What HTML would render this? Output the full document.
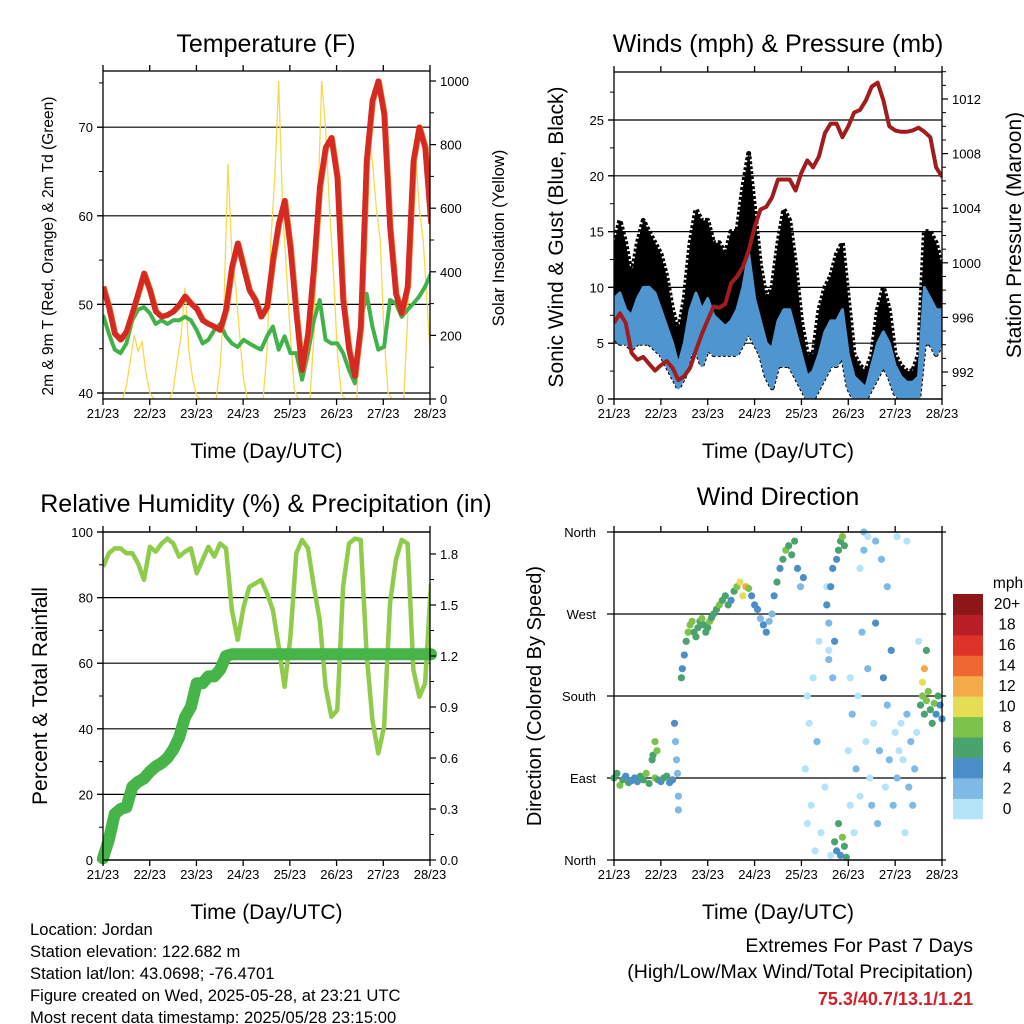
<!DOCTYPE html>
<html><head><meta charset="utf-8"><title>Jordan station weather, last 7 days</title>
<style>
html,body{margin:0;padding:0;background:#fff;}
svg{display:block;font-family:"Liberation Sans",Arial,sans-serif;}
</style></head>
<body>
<svg id="chart" xmlns="http://www.w3.org/2000/svg" width="1024" height="1024" viewBox="0 0 1024 1024">
<rect x="0" y="0" width="1024" height="1024" fill="#fff"/>
<defs>
<clipPath id="c1"><rect x="103" y="71" width="327" height="328"/></clipPath>
<clipPath id="c2"><rect x="614" y="72" width="328" height="327"/></clipPath>
<clipPath id="c3"><rect x="103" y="532" width="327" height="328"/></clipPath>
<clipPath id="c4"><rect x="610" y="528" width="336" height="336"/></clipPath>
</defs>
<g id="p1"></g>
<g id="p2"></g>
<g id="p3"></g>
<g id="p4"></g>
<g font-size="16.6" fill="#000">
<text x="30" y="935">Location: Jordan</text>
<text x="30" y="957">Station elevation: 122.682 m</text>
<text x="30" y="979">Station lat/lon: 43.0698; -76.4701</text>
<text x="30" y="1001">Figure created on Wed, 2025-05-28, at 23:21 UTC</text>
<text x="30" y="1023">Most recent data timestamp: 2025/05/28 23:15:00</text>
</g>
<g text-anchor="end">
<text x="973" y="952" font-size="19.5">Extremes For Past 7 Days</text>
<text x="973" y="978" font-size="19.5">(High/Low/Max Wind/Total Precipitation)</text>
<text x="973" y="1005" font-size="18" font-weight="bold" fill="#d0202a">75.3/40.7/13.1/1.21</text>
</g>
</svg>
<script>
// ---- data (3-hourly from 21/23 UTC, 57 samples) ----
const TEMP = [52.0,49.7,46.7,46.0,46.9,49.0,51.2,53.5,51.6,49.2,48.6,48.8,49.2,49.9,50.9,50.1,49.5,48.2,47.8,47.5,47.1,49.4,54.2,56.9,54.2,51.6,50.5,48.6,49.7,55.0,59.1,61.7,56.4,49.0,42.6,46.7,54.2,63.2,67.7,68.8,64.3,50.5,44.9,41.9,47.5,66.2,73.0,75.2,71.5,58.7,51.2,49.0,52.0,66.2,70.0,67.7,59.1];
const DEWPT = [48.8,46.7,44.9,44.5,45.6,48.2,49.4,49.7,49.0,47.8,48.2,47.8,48.2,48.2,48.6,48.2,47.1,45.6,46.0,47.1,47.8,46.4,45.6,45.2,46.0,45.6,45.2,44.9,46.4,47.5,44.9,46.4,44.5,44.5,41.5,44.5,48.2,50.5,46.0,45.6,45.6,44.5,42.6,41.1,48.2,51.2,47.5,44.9,45.2,50.5,50.1,48.6,49.4,50.1,50.9,52.0,53.5];
// 2-hourly solar insolation (85 samples)
const SOLAR = [0,0,0,0,0,0,40,120,200,150,180,80,20,0,
 0,0,0,0,30,120,200,350,150,60,10,0,
 0,0,0,0,100,300,740,450,350,200,60,0,
 0,0,0,0,150,500,700,1000,600,400,200,30,
 0,0,0,0,200,600,1000,850,600,400,150,20,
 0,0,0,0,250,700,820,750,600,500,200,20,
 0,0,0,0,250,700,780,600,500,300,100];
const WIND_LO = [5.5,5,5,4.5,5,5,5,4.5,4,3,2,1,2,4,4.5,3,4.5,4,4,4,4,4,5,6,5,4,2,1,3,3,3,2,1,0,0,1,2,3,3,4,1,0,0,0,1,2,3,2,0.5,0,0,0,0,5,5,4,5];
const WIND_HI = [9,9.5,8,7.5,9,10,10,9.5,8,6.5,5,3,5,8,9.5,8,9,7.5,7,6.5,7,8,10,13,9,7,5,4.5,7,8,8,6,4,2,2.5,4,6,7,7,8,4,2,1.5,1,3,5,6,5,3,2,1.5,1.5,2,10,9,8,8];
const GUST_HI = [14,16,14,11,14,16,15,14,13,11,8,6,9,14,17,16,16,14,14,13,15,15,19,22,17,12,9,10,14,17,16,12,7,4,4,8,10,11,13,14,9,4,3,2.5,4,8,10,8,4,3,2.5,2.5,4,15,15,14,12];
const PRESSURE = [995.6,996.3,995.6,993.4,992.9,993.1,992.6,992.1,992.5,992.8,992.3,991.4,991.7,992.3,993.6,994.8,995.8,996.8,996.7,997.0,998.5,999.0,999.7,1000.9,1002.6,1003.9,1004.1,1004.8,1006.1,1006.1,1006.1,1005.3,1006.6,1007.5,1007.0,1007.8,1009.5,1010.2,1010.2,1009.2,1010.0,1011.0,1011.2,1011.9,1012.9,1013.2,1011.9,1010.0,1009.7,1009.6,1009.6,1009.7,1009.9,1009.6,1009.2,1007.0,1006.3];
const RH = [89.4,93.5,95,95,93.5,93.5,90.4,85.4,95.5,94,96.5,98,96.5,92.5,94,95,87.4,91.5,95.5,92.5,96.5,95,76.2,67.1,77.2,83.3,84.3,85.4,81.3,76.2,65,52.8,68,93.5,97.6,95,83.3,73.2,52.8,43.7,45.7,83.3,96.5,98,97.6,63,42.7,32.5,40.6,78.2,91.5,97.6,96.5,58,49.8,53.8,84.3];
const PRECIP = [0.01,0.12,0.27,0.30,0.31,0.43,0.46,0.48,0.52,0.55,0.57,0.60,0.65,0.72,0.84,0.90,1.04,1.04,1.08,1.08,1.12,1.20,1.21,1.21,1.21,1.21,1.21,1.21,1.21,1.21,1.21,1.21,1.21,1.21,1.21,1.21,1.21,1.21,1.21,1.21,1.21,1.21,1.21,1.21,1.21,1.21,1.21,1.21,1.21,1.21,1.21,1.21,1.21,1.21,1.21,1.21,1.21];
// wind direction observations: hour since 21/23, direction (deg), speed (mph)
const WD_T = [0,1.5,3,4.5,6,7.5,9,10.5,12,13.5,15,16.5,18,19.5,21,22.5,24,25.5,27,28.5,30,20,21,22,31,31.5,32,32.5,33,33,
 34.5,35,36,37,38,39,40,41,42,43,44,45,46,47,48,49,50,
 51,52.5,54,55.5,57,58.5,60,61.5,63,64.5,66,67.5,69,
 70.5,72,73.5,75,76.5,78,79.5,81,
 82,83.5,85,86.5,88,89.5,91,92.5,94,95.5,97,
 98,99,99,100,101,102,103,104,105,106,108,109,110,111,
 109,110,111,112,113,114,115,116,117,118,112,110,
 113,114,115,116,117,118,119,
 120,121,121,122,123,124,125,126,127,128,129,130,131,132,133,134,134,135,136,137,138,139,140,141,142,143,144,145,146,147,148,149,150,151,152,153,154,155,156,126,128,130,140,145,150,
 157,158,159,160,161,162,163,164,165,166,167,168,159,160,158];
const WD_DIR = [90,95,82,88,92,85,87,90,86,92,88,95,84,110,90,88,86,90,92,85,88,115,130,120,150,130,110,95,70,55,
 200,210,225,240,250,258,262,250,245,255,262,265,258,250,255,262,266,
 270,275,280,285,290,280,285,295,300,305,290,300,298,
 290,280,275,265,258,250,262,270,
 290,305,320,330,340,345,335,350,320,300,310,
 100,180,40,150,60,200,10,130,240,30,80,300,230,5,
 280,260,300,320,240,330,340,350,355,345,200,220,
 20,10,40,5,25,15,3,
 120,200,60,160,30,100,180,70,250,340,130,210,90,60,150,260,350,40,120,330,200,80,170,110,230,60,140,90,120,150,110,30,160,80,130,60,100,140,240,320,360,355,300,355,350,
 170,180,160,175,185,165,150,172,160,180,170,155,210,230,195];
const WD_SPD = [6,7,8,6,5,6,5,4,5,6,7,8,6,7,8,6,5,6,6,4,5,7,8,9,4,3,3,2,2,2,
 6,5,4,7,8,8,9,7,6,7,6,8,7,6,7,8,7,
 7,6,8,6,7,6,5,7,8,10,11,12,9,
 5,4,4,3,4,4,3,2,
 5,6,4,6,8,7,6,7,4,2,5,
 1,0,1,1,0,1,0,2,1,0,1,1,1,0,
 4,3,4,4,4,5,6,7,8,6,3,2,
 6,4,7,5,8,6,7,
 1,0,1,2,1,3,1,0,3,2,1,3,1,2,1,4,2,3,2,2,4,1,2,3,4,2,1,2,1,1,0,1,2,3,2,3,3,1,0,1,2,1,2,1,1,
 7,8,6,9,8,7,6,8,5,6,5,4,12,6,10];
const X_TICKS = ["21/23","22/23","23/23","24/23","25/23","26/23","27/23","28/23"];
const BIN_LABELS = ["0","2","4","6","8","10","12","14","16","18","20+"];
const BIN_COLORS = ["#b5e4f9","#7ebae5","#4c8ec8","#4aa36d","#7dc24a","#e5de55","#f5aa48","#ef6730","#dd3329","#b91e26","#8d1619"];

const NS="http://www.w3.org/2000/svg";
function mk(parent,tag,attrs,txt){const e=document.createElementNS(NS,tag);for(const k in attrs)e.setAttribute(k,attrs[k]);if(txt!==undefined)e.textContent=txt;parent.appendChild(e);return e;}
function line(g,x1,y1,x2,y2,w,c){return mk(g,'line',{x1:x1,y1:y1,x2:x2,y2:y2,stroke:c||'#000','stroke-width':w||1});}
function xAxis(x0){return t=>x0+t/168*328;}
function pts(arr,step,xf,yf){return arr.map((v,i)=>xf(i*step).toFixed(1)+','+yf(v).toFixed(1)).join(' ');}

function frame(g,x0,y0,x1,y1,title,tcx,tcy,xlabY){
  const r=mk(g,'rect',{x:x0,y:y0,width:x1-x0,height:y1-y0,fill:'none',stroke:'#000','stroke-width':1.3});
  
  
  const tt=mk(g,'text',{x:tcx,y:tcy,'font-size':25,'text-anchor':'middle'},title);
  
  
  for(let i=0;i<8;i++){
    const x=x0+i*(x1-x0)/7;
    line(g,x,y1,x,y1+6,1.3);line(g,x,y0,x,y0-6,1.3);
    const lb=mk(g,'text',{x:x,y:y1+19,'font-size':13,'text-anchor':'middle'},X_TICKS[i]);
    
    
  }
  const xt=mk(g,'text',{x:(x0+x1)/2,y:xlabY,'font-size':21,'text-anchor':'middle'},'Time (Day/UTC)');
  
  
}
function yTicks(g,xAx,side,vals,yf,fmt,minor,grid,gx0,gx1){
  const d=side<0?-1:1;
  minor.forEach(v=>line(g,xAx,yf(v),xAx+d*4,yf(v),1));
  vals.forEach(v=>{const y=yf(v);
    if(grid) line(g,gx0,y,gx1,y,1.2);
    line(g,xAx,y,xAx+d*6,y,1.2);
    const t=mk(g,'text',{x:xAx+d*10,y:y+5,'font-size':13,'text-anchor':side<0?'end':'start'},fmt(v));
    
    
  });
}
function yTitle(g,x,y,txt,fs,name){
  const t=mk(g,'text',{x:x,y:y,'font-size':fs,'text-anchor':'middle',transform:'rotate(-90 '+x+' '+y+')'},txt);
  
  
}

// ---------- Panel 1: Temperature ----------
(function(){
  const g=document.getElementById('p1');
  const xs=xAxis(103), yT=v=>393-(v-40)*8.86, yS=v=>399-v*0.318;
  yTicks(g,103,-1,[40,50,60,70],yT,v=>v,[45,55,65,75],true,97,430);
  const gd=mk(g,'g',{'clip-path':'url(#c1)'});
  const sol=mk(gd,'polyline',{points:pts(SOLAR,2,xs,yS),fill:'none',stroke:'#f8d94c','stroke-width':1.3});
  
  
  const td=mk(gd,'polyline',{points:pts(DEWPT,3,xs,yT),fill:'none',stroke:'#3fb34a','stroke-width':4,'stroke-linejoin':'round'});
  
  
  const t9=mk(gd,'polyline',{points:pts(TEMP,3,t=>xs(t)+1,yT),fill:'none',stroke:'#f07a2a','stroke-width':5,'stroke-linejoin':'round'});
  
  
  const tl=mk(gd,'polyline',{points:pts(TEMP,3,xs,yT),fill:'none',stroke:'#d42a22','stroke-width':5.5,'stroke-linejoin':'round'});
  
  
  yTicks(g,430,1,[0,200,400,600,800,1000],yS,v=>v,[100,300,500,700,900],false);
  frame(g,103,71,430,399,'Temperature (F)',266,52,458);
  yTitle(g,53,246,'2m & 9m T (Red, Orange) & 2m Td (Green)',15.5,'y-axis-title');
  yTitle(g,504,238,'Solar Insolation (Yellow)',16.5,'y2-axis-title');
})();

// ---------- Panel 2: Winds & Pressure ----------
(function(){
  const g=document.getElementById('p2');
  const xs=xAxis(614), yW=v=>399-v*11.16, yP=p=>372-(p-992)*13.65;
  yTicks(g,614,-1,[0,5,10,15,20,25],yW,v=>v,[2.5,7.5,12.5,17.5,22.5,27.5],true,608,942);
  const gd=mk(g,'g',{'clip-path':'url(#c2)'});
  const up=GUST_HI.map((v,i)=>xs(i*3).toFixed(1)+','+yW(v).toFixed(1));
  const dn=WIND_LO.map((v,i)=>xs(i*3).toFixed(1)+','+yW(v).toFixed(1)).reverse();
  const gb=mk(gd,'polygon',{points:up.concat(dn).join(' '),fill:'#000',stroke:'#000','stroke-width':5,'stroke-linejoin':'round','stroke-dasharray':'3 2'});
  
  
  const up2=WIND_HI.map((v,i)=>xs(i*3).toFixed(1)+','+yW(v).toFixed(1));
  const wb=mk(gd,'polygon',{points:up2.concat(dn).join(' '),fill:'#4f95d0',stroke:'#4f95d0','stroke-width':3,'stroke-linejoin':'round'});
  
  
  const pl=mk(gd,'polyline',{points:pts(PRESSURE,3,xs,yP),fill:'none',stroke:'#a11c1c','stroke-width':4,'stroke-linejoin':'round'});
  
  
  const minorP=[];for(let p=991;p<=1014;p++)if(p%4)minorP.push(p);
  yTicks(g,942,1,[992,996,1000,1004,1008,1012],yP,v=>v,minorP,false);
  frame(g,614,72,942,399,'Winds (mph) & Pressure (mb)',778,52,458);
  yTitle(g,563,237,'Sonic Wind & Gust (Blue, Black)',21,'y-axis-title');
  yTitle(g,1021,235,'Station Pressure (Maroon)',21,'y2-axis-title');
})();

// ---------- Panel 3: RH & Precip ----------
(function(){
  const g=document.getElementById('p3');
  const xs=xAxis(103), yR=v=>860-v*3.28, yPr=v=>860-v*170;
  yTicks(g,103,-1,[0,20,40,60,80,100],yR,v=>v,[10,30,50,70,90],true,97,430);
  const gd=mk(g,'g',{'clip-path':'url(#c3)'});
  const rl=mk(gd,'polyline',{points:pts(RH,3,xs,yR),fill:'none',stroke:'#90cb4c','stroke-width':4.5,'stroke-linejoin':'round'});
  
  
  const pl=mk(g,'polyline',{points:pts(PRECIP,3,xs,yPr),fill:'none',stroke:'#46b449','stroke-width':12,'stroke-linejoin':'round','stroke-linecap':'round'});
  
  
  yTicks(g,430,1,[0,0.3,0.6,0.9,1.2,1.5,1.8],yPr,v=>v.toFixed(1),[0.15,0.45,0.75,1.05,1.35,1.65],false);
  frame(g,103,532,430,860,'Relative Humidity (%) & Precipitation (in)',266,512,919);
  yTitle(g,47,696,'Percent & Total Rainfall',21,'y-axis-title');
})();

// ---------- Panel 4: Wind direction ----------
(function(){
  const g=document.getElementById('p4');
  const xs=xAxis(614), yD=d=>860-d*328/360;
  const names=['North','East','South','West','North'];
  [0,90,180,270,360].forEach((d,i)=>{const y=yD(d);line(g,607,y,946,y,1.2);
    const t=mk(g,'text',{x:596,y:y+5,'font-size':13,'text-anchor':'end'},names[i]);
    
    });
  const gd=mk(g,'g',{'clip-path':'url(#c4)'});
  WD_T.forEach((t,i)=>{
    const b=Math.min(10,Math.floor(WD_SPD[i]/2));
    const c=mk(gd,'circle',{cx:xs(t).toFixed(1),cy:yD(WD_DIR[i]).toFixed(1),r:3.6,fill:BIN_COLORS[b]});
    
    
  });
  frame(g,614,532,942,860,'Wind Direction',778,505,919);
  yTitle(g,541,696,'Direction (Colored By Speed)',20,'y-axis-title');
  const cb=mk(g,'g',{});
  
  
  const h=225/11;
  BIN_COLORS.forEach((c,i)=>{const y=819-(i+1)*h;
    const r=mk(cb,'rect',{x:953,y:y.toFixed(1),width:30,height:(h+0.3).toFixed(1),fill:c});
    
    
    const t=mk(cb,'text',{x:1007,y:(y+h/2+5).toFixed(1),'font-size':15.5,'text-anchor':'middle'},BIN_LABELS[i]);
    
    
  });
  const u=mk(cb,'text',{x:1008,y:588,'font-size':15.5,'text-anchor':'middle'},'mph');
  
  
})();
</script>
</body></html>
